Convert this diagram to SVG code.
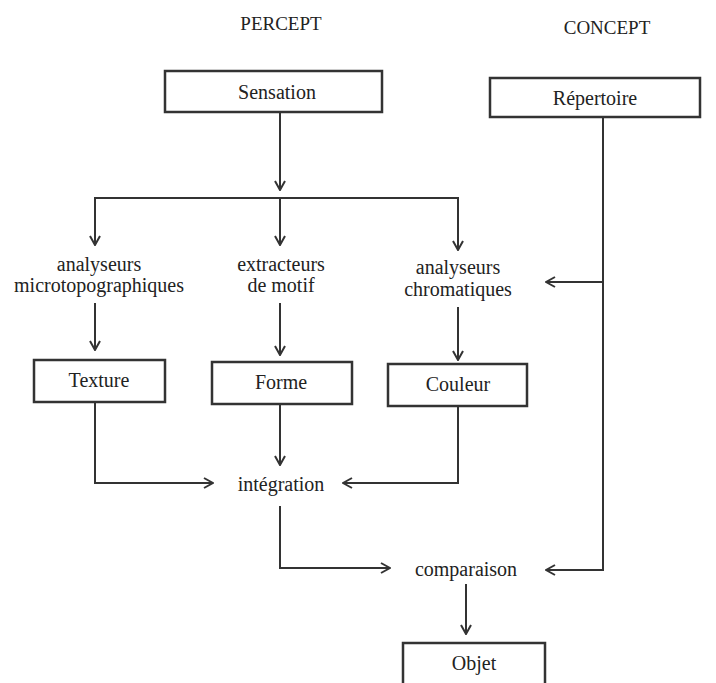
<svg xmlns="http://www.w3.org/2000/svg" width="716" height="683" viewBox="0 0 716 683">
<defs>
<marker id="ah" viewBox="0 0 12 12" refX="11" refY="6" markerWidth="12" markerHeight="12" markerUnits="userSpaceOnUse" orient="auto">
<path d="M2,1 L11,6 L2,11" fill="none" stroke="#333" stroke-width="2"/>
</marker>
<style>
text{font-family:"Liberation Serif","Times New Roman",serif;font-size:20px;fill:#222;text-anchor:middle}
.hd{font-size:19px}
rect{fill:#fff;stroke:#333;stroke-width:2.5}
.c path{fill:none;stroke:#333;stroke-width:2}
</style>
</defs>
<rect x="0" y="0" width="716" height="683" style="fill:#fff;stroke:none"/>
<g id="percept"><text class="hd" x="281" y="30">PERCEPT</text></g>
<g id="concept"><text class="hd" x="607" y="34">CONCEPT</text></g>
<g id="sensation"><rect x="165" y="71" width="217" height="41"/><text x="277" y="99">Sensation</text></g>
<g id="repertoire"><rect x="490" y="78" width="210" height="39"/><text x="595" y="105">Répertoire</text></g>
<g id="analyseurs-micro"><text x="99" y="271">analyseurs</text><text x="99" y="292">microtopographiques</text></g>
<g id="extracteurs"><text x="281" y="271">extracteurs</text><text x="281" y="292">de motif</text></g>
<g id="analyseurs-chrom"><text x="458" y="274">analyseurs</text><text x="458" y="296">chromatiques</text></g>
<g id="texture"><rect x="34" y="360" width="131" height="42"/><text x="99" y="387">Texture</text></g>
<g id="forme"><rect x="212" y="362" width="140" height="42"/><text x="281" y="389">Forme</text></g>
<g id="couleur"><rect x="388" y="364" width="139" height="42"/><text x="458" y="391">Couleur</text></g>
<g id="integration"><text x="281" y="491">intégration</text></g>
<g id="comparaison"><text x="466" y="576">comparaison</text></g>
<g id="objet"><rect x="403" y="643" width="142" height="45"/><text x="474" y="670">Objet</text></g>
<g class="c" id="connectors">
<path d="M280,112 V190" marker-end="url(#ah)"/>
<path d="M95,245 V198 H458 V250" marker-end="url(#ah)"/>
<path d="M95,198 V245" marker-end="url(#ah)"/>
<path d="M280,198 V245" marker-end="url(#ah)"/>
<path d="M603,117 V570 H546" marker-end="url(#ah)"/>
<path d="M603,282 H546" marker-end="url(#ah)"/>
<path d="M95,303 V350" marker-end="url(#ah)"/>
<path d="M280,303 V355" marker-end="url(#ah)"/>
<path d="M458,307 V360" marker-end="url(#ah)"/>
<path d="M95,402 V483 H213" marker-end="url(#ah)"/>
<path d="M280,404 V465" marker-end="url(#ah)"/>
<path d="M458,406 V483 H343" marker-end="url(#ah)"/>
<path d="M280,506 V568 H390" marker-end="url(#ah)"/>
<path d="M466,584 V634" marker-end="url(#ah)"/>
</g>
</svg>
